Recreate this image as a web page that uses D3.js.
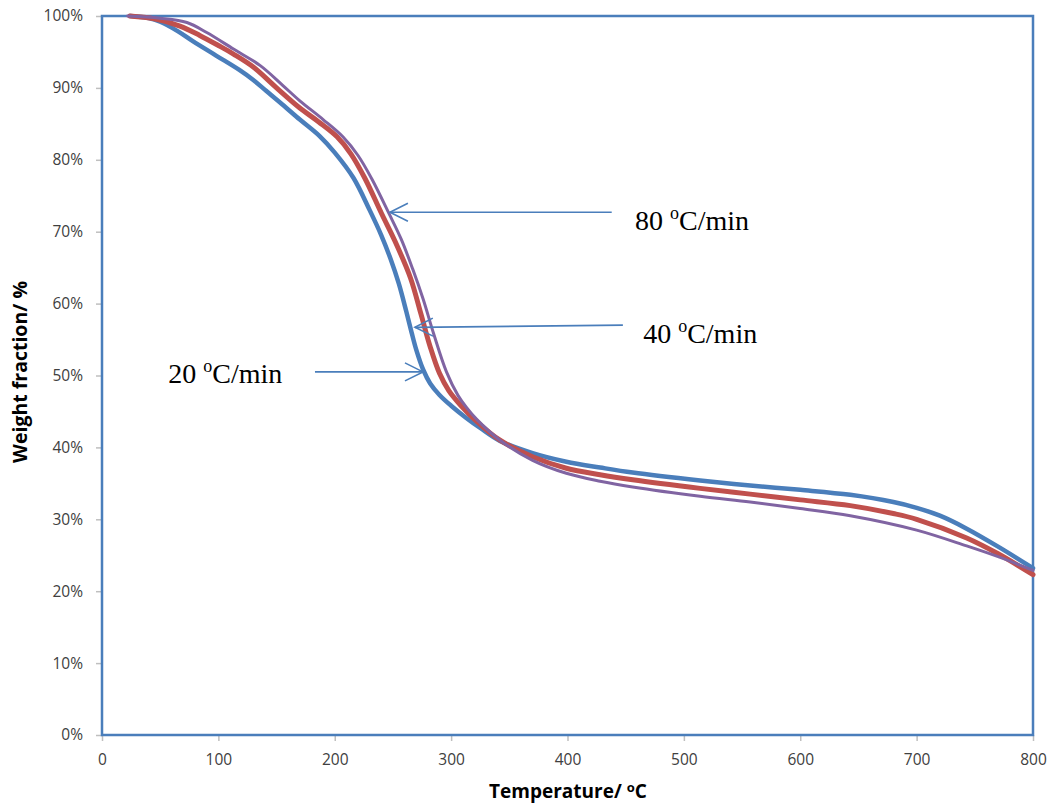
<!DOCTYPE html>
<html>
<head>
<meta charset="utf-8">
<script src="https://cdn.jsdelivr.net/npm/d3@7"></script>
<style>
  html, body { margin: 0; padding: 0; background: #fff; }
  svg { display: block; }
</style>
</head>
<body>
<svg id="chart" width="1055" height="810"></svg>
<script>
// ---- Data ----
const xTicks = [0, 100, 200, 300, 400, 500, 600, 700, 800];
const yTicks = [0, 10, 20, 30, 40, 50, 60, 70, 80, 90, 100];

// 20 °C/min (blue)
const T20 = [24, 40, 50, 65, 78, 98, 118, 130, 141, 155, 170, 187, 200, 216, 230, 240, 248, 255, 261, 266, 270, 276, 282, 290, 300, 313, 325, 342, 370, 399, 428, 456, 514, 557, 600, 643, 680, 700, 720, 743, 770, 800];
const W20 = [100, 99.7, 99.2, 97.9, 96.5, 94.5, 92.5, 91.1, 89.6, 87.7, 85.6, 83.3, 81.0, 77.5, 73.0, 69.5, 66.2, 62.8, 59.2, 56.0, 53.6, 50.8, 48.9, 47.3, 45.8, 44.1, 42.7, 40.9, 39.2, 38.0, 37.2, 36.5, 35.4, 34.7, 34.1, 33.4, 32.4, 31.6, 30.5, 28.7, 26.2, 23.2];

// 40 °C/min (red)
const T40 = [24, 45, 67, 84, 100, 113, 130, 150, 170, 186, 202, 214, 226, 240, 252, 265, 274, 282, 290, 298, 308, 322, 342, 370, 399, 428, 456, 514, 557, 600, 643, 680, 700, 743, 770, 800];
const W40 = [100, 99.6, 98.6, 97.3, 95.9, 94.7, 92.9, 90.0, 87.2, 85.3, 83.2, 80.8, 77.4, 72.6, 68.6, 63.6, 58.6, 54.0, 50.3, 47.9, 45.9, 43.6, 41.0, 38.7, 37.1, 36.2, 35.5, 34.3, 33.5, 32.7, 31.9, 30.8, 30.0, 27.4, 25.2, 22.3];

// 80 °C/min (purple)
const T80 = [22, 50, 73, 90, 113, 136, 155, 170, 190, 207, 220, 232, 247, 257, 267, 276, 285, 296, 306, 313, 322, 342, 370, 399, 428, 456, 514, 557, 600, 643, 700, 743, 770, 800];
const W80 = [100, 99.7, 99.1, 97.7, 95.4, 93.1, 90.4, 88.2, 85.6, 83.2, 80.6, 77.3, 72.4, 69.0, 64.8, 60.6, 55.8, 50.5, 47.2, 45.6, 43.9, 41.0, 38.2, 36.4, 35.3, 34.5, 33.2, 32.4, 31.5, 30.5, 28.5, 26.3, 24.8, 22.9];

// Annotations in data units: label, label position, arrow start, arrow end
const annLabels = ["80", "40", "20"];
const annLabelT = [458, 465, 57];
const annLabelW = [70.2, 54.5, 49.0];
const arrowT0 = [438, 447.6, 183];
const arrowW0 = [72.7, 57.0, 50.5];
const arrowT1 = [247.4, 268.9, 275.8];
const arrowW1 = [72.7, 56.7, 50.5];

// ---- Layout ----
const svg = d3.select("#chart");
const x = d3.scaleLinear().domain([0, 800]).range([102, 1033]);
const y = d3.scaleLinear().domain([0, 100]).range([735, 16]);

const frameColor = "#4a7ebb";
const tickColor = "#bfbfbf";
const labelFont = "'Open Sans', 'Liberation Sans', sans-serif";

// Axes (tick marks + labels only, frame drawn separately)
const xAxis = svg.append("g")
  .attr("transform", `translate(0,${y(0)})`)
  .call(d3.axisBottom(x).tickValues(xTicks).tickSize(6).tickPadding(13).tickFormat(d3.format("d")));
const yAxis = svg.append("g")
  .attr("transform", `translate(${x(0)},0)`)
  .call(d3.axisLeft(y).tickValues(yTicks).tickSize(6).tickPadding(13).tickFormat(d => d + "%"));
[xAxis, yAxis].forEach(g => {
  g.select(".domain").remove();
  g.selectAll(".tick line").attr("stroke", tickColor).attr("stroke-width", 1.5);
  g.selectAll(".tick text").attr("fill", "#404040").style("font-family", labelFont).style("font-size", "15.5px");
});

// Plot frame
svg.append("rect")
  .attr("x", x(0)).attr("y", y(100))
  .attr("width", x(800) - x(0)).attr("height", y(0) - y(100))
  .attr("fill", "none").attr("stroke", frameColor).attr("stroke-width", 2.5);

// Series
const line = d3.line().x(d => x(d[0])).y(d => y(d[1])).curve(d3.curveCatmullRom.alpha(0.5));
const series = [
  { T: T20, W: W20, color: "#4a7ebb", width: 4.5 },
  { T: T40, W: W40, color: "#c0504d", width: 5 },
  { T: T80, W: W80, color: "#8064a2", width: 3 }
];
series.forEach(s => {
  svg.append("path")
    .datum(s.T.map((t, i) => [t, s.W[i]]))
    .attr("fill", "none")
    .attr("stroke", s.color)
    .attr("stroke-width", s.width)
    .attr("stroke-linejoin", "round")
    .attr("stroke-linecap", "round")
    .attr("d", line);
});

// Arrow marker
svg.append("defs").append("marker")
  .attr("id", "arr")
  .attr("viewBox", "-20 -11 22 22")
  .attr("refX", 0).attr("refY", 0)
  .attr("markerUnits", "userSpaceOnUse")
  .attr("markerWidth", 22).attr("markerHeight", 22)
  .attr("orient", "auto")
  .append("path")
  .attr("d", "M-18,-9 L0,0 L-18,9")
  .attr("fill", "none").attr("stroke", frameColor).attr("stroke-width", 1.6);

annLabels.forEach((lab, i) => {
  svg.append("line")
    .attr("x1", x(arrowT0[i])).attr("y1", y(arrowW0[i]))
    .attr("x2", x(arrowT1[i])).attr("y2", y(arrowW1[i]))
    .attr("stroke", frameColor).attr("stroke-width", 1.6)
    .attr("marker-end", "url(#arr)");
  const t = svg.append("text")
    .attr("x", x(annLabelT[i])).attr("y", y(annLabelW[i]))
    .style("font-family", "'Liberation Serif', 'Times New Roman', serif")
    .style("font-size", "28px")
    .attr("fill", "#000");
  t.append("tspan").text(lab + " ");
  t.append("tspan").attr("dy", -11).style("font-size", "18px").text("o");
  t.append("tspan").attr("dy", 11).text("C/min");
});

// Axis titles
const xt = svg.append("text")
  .attr("x", 568).attr("y", 798)
  .attr("text-anchor", "middle")
  .style("font-family", labelFont).style("font-weight", "bold").style("font-size", "19px")
  .attr("fill", "#000");
xt.append("tspan").text("Temperature/ ");
xt.append("tspan").attr("dy", -6).style("font-size", "13px").text("o");
xt.append("tspan").attr("dy", 6).text("C");

svg.append("text")
  .attr("transform", "translate(27,372) rotate(-90)")
  .attr("text-anchor", "middle")
  .style("font-family", labelFont).style("font-weight", "bold").style("font-size", "19.5px")
  .attr("fill", "#000")
  .text("Weight fraction/ %");
</script>
</body>
</html>
